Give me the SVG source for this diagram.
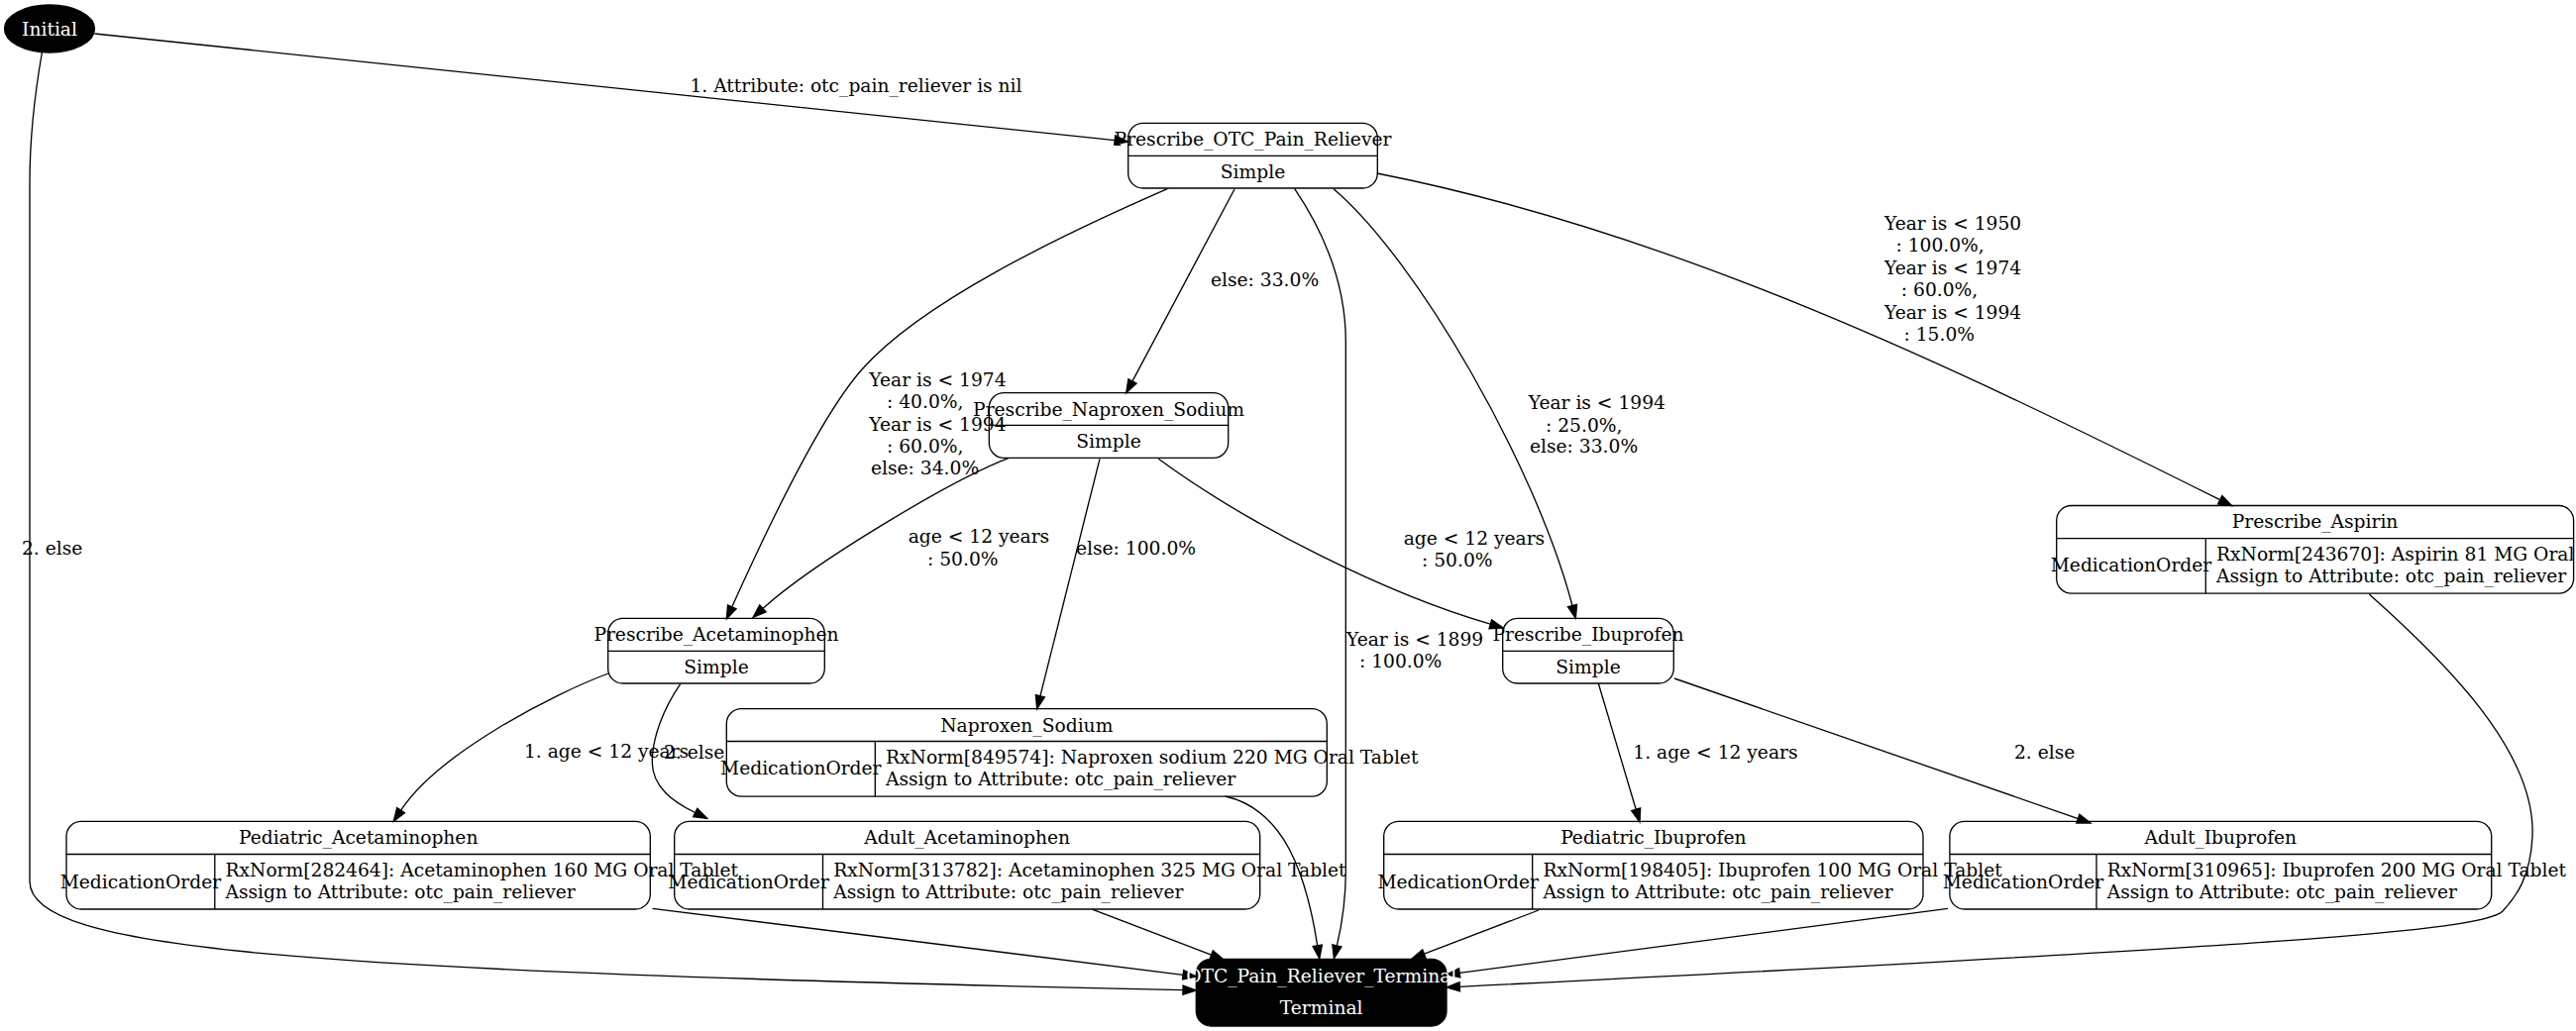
<svg xmlns="http://www.w3.org/2000/svg" width="2600" height="1041" viewBox="0 0 2600 1041">
<style>
.bg { fill: #ffffff; }
.n { fill: none; stroke: #000000; stroke-width: 1.33; }
.nb { fill: #000000; stroke: #000000; stroke-width: 1.33; }
.d { stroke: #000000; stroke-width: 1.33; fill: none; }
.t { font-family: "DejaVu Serif", "Liberation Serif", serif; font-size: 18.67px; fill: #000000; }
.c { text-anchor: middle; }
.w { fill: #ffffff; }
.e { fill: none; stroke: #000000; stroke-width: 1.33; marker-end: url(#arr); }
</style>
<defs>
<marker id="arr" markerWidth="15" markerHeight="12" refX="0" refY="6" orient="auto" markerUnits="userSpaceOnUse" overflow="visible">
<path d="M0,1.33 L13.33,6 L0,10.67 Z" fill="#000000" stroke="#000000" stroke-width="1.33"/>
</marker>
</defs>
<rect class="bg" x="0" y="0" width="2600" height="1041"/>

<g id="connectors">
  <g id="e_initial_otc">
    <path class="e" d="M95.5,34 L1125.2,141.6"/>
    <text class="t c" x="864" y="93">1. Attribute: otc_pain_reliever is nil</text>
  </g>
  <g id="e_initial_terminal">
    <path class="e" d="M42.5,52.5 C35,95 30,140 30,185 L30,890 C30,960 300,980 1194,999.7"/>
    <text class="t" x="22" y="560">2. else</text>
  </g>
  <g id="e_otc_naproxen">
    <path class="e" d="M1246,191 L1143,384.9"/>
    <text class="t" x="1222" y="288.5">else: 33.0%</text>
  </g>
  <g id="e_otc_acet">
    <path class="e" d="M1178.3,190.7 C1070,238 930,305 870,373 C830,418 775.7,530.7 738.8,612.8"/>
    <text class="t" x="877.3" y="390">Year is &lt; 1974</text>
    <text class="t" x="895" y="412.3">: 40.0%,</text>
    <text class="t" x="877.3" y="435">Year is &lt; 1994</text>
    <text class="t" x="895" y="457.3">: 60.0%,</text>
    <text class="t" x="879" y="479.3">else: 34.0%</text>
  </g>
  <g id="e_otc_terminal">
    <path class="e" d="M1306.7,190.7 C1340,240 1358.3,290 1358.3,345 L1358.3,880 C1358.3,910 1354,935 1349.4,954.9"/>
    <text class="t" x="1359" y="651.7">Year is &lt; 1899</text>
    <text class="t" x="1372" y="674">: 100.0%</text>
  </g>
  <g id="e_otc_ibuprofen">
    <path class="e" d="M1346,190.7 C1430,262 1550,470 1587,611.5"/>
    <text class="t" x="1542.7" y="413.3">Year is &lt; 1994</text>
    <text class="t" x="1560" y="435.5">: 25.0%,</text>
    <text class="t" x="1544" y="457.3">else: 33.0%</text>
  </g>
  <g id="e_otc_aspirin">
    <path class="e" d="M1389.8,175 C1690,234 1975,372 2240.7,504.7"/>
    <text class="t" x="1902" y="231.7">Year is &lt; 1950</text>
    <text class="t" x="1913.5" y="254">: 100.0%,</text>
    <text class="t" x="1902" y="276.7">Year is &lt; 1974</text>
    <text class="t" x="1918.8" y="299">: 60.0%,</text>
    <text class="t" x="1902" y="321.7">Year is &lt; 1994</text>
    <text class="t" x="1921.5" y="344">: 15.0%</text>
  </g>
  <g id="e_naproxen_acet">
    <path class="e" d="M1017.7,462.7 C960,485 821.7,567.5 769.9,614.4"/>
    <text class="t" x="916.7" y="548.3">age &lt; 12 years</text>
    <text class="t" x="936" y="570.7">: 50.0%</text>
  </g>
  <g id="e_naproxen_naproxensodium">
    <path class="e" d="M1110,463.3 L1049.9,702.8"/>
    <text class="t" x="1086" y="560">else: 100.0%</text>
  </g>
  <g id="e_naproxen_ibuprofen">
    <path class="e" d="M1169.3,463.3 C1260,530 1400,600 1504.3,630.2"/>
    <text class="t" x="1416.7" y="550">age &lt; 12 years</text>
    <text class="t" x="1435" y="571.7">: 50.0%</text>
  </g>
  <g id="e_acet_pediatric">
    <path class="e" d="M614,680 C560,700 443,759.8 404.6,818.2"/>
    <text class="t" x="529" y="765">1. age &lt; 12 years</text>
  </g>
  <g id="e_acet_adult">
    <path class="e" d="M686.7,690.7 C670,715 658,745 658.3,770 C658.6,795 680,810 701.7,820.5"/>
    <text class="t" x="670" y="765.7">2. else</text>
  </g>
  <g id="e_ibuprofen_pediatric">
    <path class="e" d="M1613.3,690 L1651.2,817.2"/>
    <text class="t" x="1648.3" y="766">1. age &lt; 12 years</text>
  </g>
  <g id="e_ibuprofen_adult">
    <path class="e" d="M1690,685 L2097.4,826.6"/>
    <text class="t" x="2033" y="766">2. else</text>
  </g>
  <g id="e_naproxensodium_terminal">
    <path class="e" d="M1236.7,804 C1285,815 1315,860 1329.7,954.8"/>
  </g>
  <g id="e_pedacet_terminal">
    <path class="e" d="M658.5,917.3 L1194.1,984.3"/>
  </g>
  <g id="e_adultacet_terminal">
    <path class="e" d="M1103,918.3 L1222.6,964.2"/>
  </g>
  <g id="e_pedibu_terminal">
    <path class="e" d="M1553,919 L1437.4,963.2"/>
  </g>
  <g id="e_adultibu_terminal">
    <path class="e" d="M1966,917.3 L1473.2,982.3"/>
  </g>
  <g id="e_aspirin_terminal">
    <path class="e" d="M2391.3,600 C2470,670 2560,760 2556,845 C2554,885 2540,905 2526,920 C2505,940 2300,955 1473.3,996.3"/>
  </g>
</g>

<g id="Initial">
  <ellipse class="nb" cx="50" cy="29" rx="45.5" ry="24"/>
  <text class="t c w" x="50" y="35.5">Initial</text>
</g>

<g id="Prescribe_OTC_Pain_Reliever">
  <rect class="n" x="1138.7" y="124.3" width="251.6" height="65.7" rx="15"/>
  <line class="d" x1="1138.7" y1="157.3" x2="1390.3" y2="157.3"/>
  <text class="t c" x="1264.5" y="147.3">Prescribe_OTC_Pain_Reliever</text>
  <text class="t c" x="1264.5" y="180">Simple</text>
</g>

<g id="Prescribe_Naproxen_Sodium">
  <rect class="n" x="998.3" y="396.7" width="241.4" height="65.6" rx="15"/>
  <line class="d" x1="998.3" y1="429.3" x2="1239.7" y2="429.3"/>
  <text class="t c" x="1119" y="419.5">Prescribe_Naproxen_Sodium</text>
  <text class="t c" x="1119" y="452.3">Simple</text>
</g>

<g id="Prescribe_Acetaminophen">
  <rect class="n" x="613.7" y="624.3" width="218.6" height="65.7" rx="15"/>
  <line class="d" x1="613.7" y1="657.3" x2="832.3" y2="657.3"/>
  <text class="t c" x="723" y="647.3">Prescribe_Acetaminophen</text>
  <text class="t c" x="723" y="680">Simple</text>
</g>

<g id="Prescribe_Ibuprofen">
  <rect class="n" x="1516.7" y="624.3" width="172.6" height="65.7" rx="15"/>
  <line class="d" x1="1516.7" y1="657.3" x2="1689.3" y2="657.3"/>
  <text class="t c" x="1603" y="647.3">Prescribe_Ibuprofen</text>
  <text class="t c" x="1603" y="680">Simple</text>
</g>

<g id="Prescribe_Aspirin">
  <rect class="n" x="2075.7" y="510.5" width="521.9" height="88.7" rx="15"/>
  <line class="d" x1="2075.7" y1="543.7" x2="2597.6" y2="543.7"/>
  <line class="d" x1="2226.3" y1="543.7" x2="2226.3" y2="599.2"/>
  <text class="t c" x="2336.6" y="533.2">Prescribe_Aspirin</text>
  <text class="t c" x="2151" y="577.2">MedicationOrder</text>
  <text class="t" x="2237" y="566">RxNorm[243670]: Aspirin 81 MG Oral Tablet</text>
  <text class="t" x="2237" y="588.2">Assign to Attribute: otc_pain_reliever</text>
</g>

<g id="Naproxen_Sodium">
  <rect class="n" x="733.3" y="715.7" width="606" height="88.5" rx="15"/>
  <line class="d" x1="733.3" y1="748.5" x2="1339.3" y2="748.5"/>
  <line class="d" x1="883.3" y1="748.5" x2="883.3" y2="804.2"/>
  <text class="t c" x="1036.3" y="738.5">Naproxen_Sodium</text>
  <text class="t c" x="808.3" y="782">MedicationOrder</text>
  <text class="t" x="894" y="771">RxNorm[849574]: Naproxen sodium 220 MG Oral Tablet</text>
  <text class="t" x="894" y="793.3">Assign to Attribute: otc_pain_reliever</text>
</g>

<g id="Pediatric_Acetaminophen">
  <rect class="n" x="67" y="829.3" width="589.3" height="88.7" rx="15"/>
  <line class="d" x1="67" y1="862.5" x2="656.3" y2="862.5"/>
  <line class="d" x1="216.8" y1="862.5" x2="216.8" y2="918"/>
  <text class="t c" x="361.7" y="852">Pediatric_Acetaminophen</text>
  <text class="t c" x="141.9" y="896.5">MedicationOrder</text>
  <text class="t" x="227.5" y="885">RxNorm[282464]: Acetaminophen 160 MG Oral Tablet</text>
  <text class="t" x="227.5" y="907">Assign to Attribute: otc_pain_reliever</text>
</g>

<g id="Adult_Acetaminophen">
  <rect class="n" x="680.7" y="829.3" width="591" height="88.7" rx="15"/>
  <line class="d" x1="680.7" y1="862.5" x2="1271.7" y2="862.5"/>
  <line class="d" x1="830.5" y1="862.5" x2="830.5" y2="918"/>
  <text class="t c" x="976.2" y="852">Adult_Acetaminophen</text>
  <text class="t c" x="755.6" y="896.5">MedicationOrder</text>
  <text class="t" x="841.2" y="885">RxNorm[313782]: Acetaminophen 325 MG Oral Tablet</text>
  <text class="t" x="841.2" y="907">Assign to Attribute: otc_pain_reliever</text>
</g>

<g id="Pediatric_Ibuprofen">
  <rect class="n" x="1396.7" y="829.3" width="544.3" height="88.7" rx="15"/>
  <line class="d" x1="1396.7" y1="862.5" x2="1941" y2="862.5"/>
  <line class="d" x1="1546.7" y1="862.5" x2="1546.7" y2="918"/>
  <text class="t c" x="1668.8" y="852">Pediatric_Ibuprofen</text>
  <text class="t c" x="1471.7" y="896.5">MedicationOrder</text>
  <text class="t" x="1557.4" y="885">RxNorm[198405]: Ibuprofen 100 MG Oral Tablet</text>
  <text class="t" x="1557.4" y="907">Assign to Attribute: otc_pain_reliever</text>
</g>

<g id="Adult_Ibuprofen">
  <rect class="n" x="1967.9" y="829.3" width="546.8" height="88.7" rx="15"/>
  <line class="d" x1="1967.9" y1="862.5" x2="2514.7" y2="862.5"/>
  <line class="d" x1="2116" y1="862.5" x2="2116" y2="918"/>
  <text class="t c" x="2241.3" y="852">Adult_Ibuprofen</text>
  <text class="t c" x="2042" y="896.5">MedicationOrder</text>
  <text class="t" x="2126.7" y="885">RxNorm[310965]: Ibuprofen 200 MG Oral Tablet</text>
  <text class="t" x="2126.7" y="907">Assign to Attribute: otc_pain_reliever</text>
</g>

<g id="OTC_Pain_Reliever_Terminal">
  <rect class="nb" x="1207.3" y="968.3" width="252.7" height="67.7" rx="15"/>
  <text class="t c w" x="1333.7" y="991.7">OTC_Pain_Reliever_Terminal</text>
  <text class="t c w" x="1333.7" y="1024">Terminal</text>
</g>
</svg>
